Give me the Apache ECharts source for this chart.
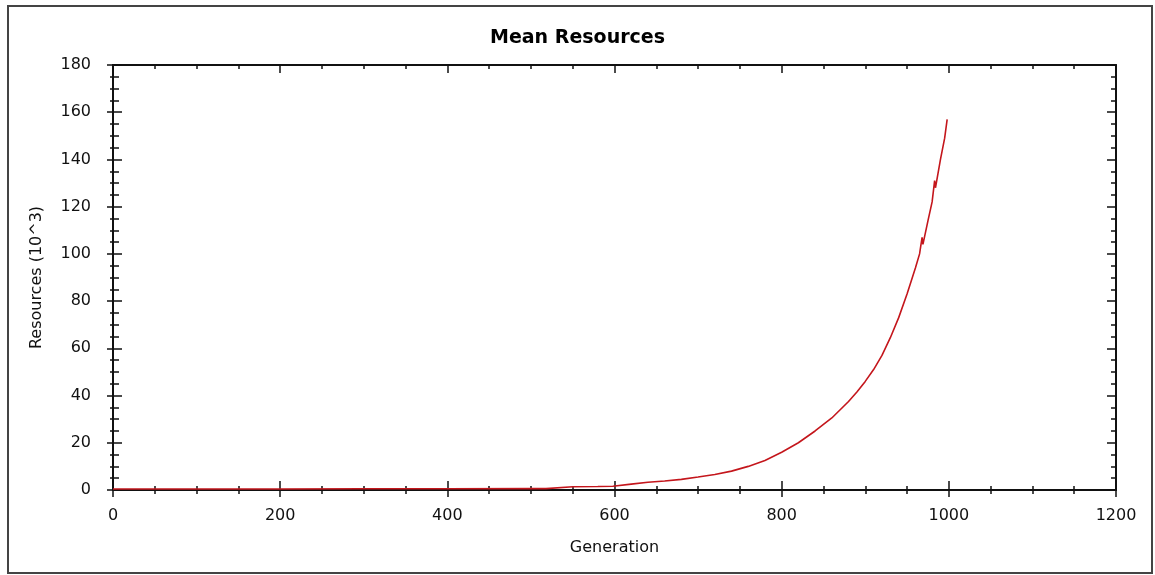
<!DOCTYPE html>
<html>
<head>
<meta charset="utf-8">
<script src="https://cdn.jsdelivr.net/npm/echarts@6/dist/echarts.min.js"></script>
<style>
html,body{margin:0;padding:0;background:#fff;}
#chart{width:1155px;height:575px;}
</style>
</head>
<body>
<div id="chart"></div>
<script>
var titleText = 'Mean Resources';
var xName = 'Generation';
var yName = 'Resources (10^3)';
var xTicks = [0, 200, 400, 600, 800, 1000, 1200];
var yTicks = [0, 20, 40, 60, 80, 100, 120, 140, 160, 180];
var generations = [0, 100, 200, 300, 400, 500, 518, 519, 550, 580, 598, 600, 620, 640, 660, 680, 700, 720, 740, 760, 780, 800, 820, 840, 860, 870, 880, 890, 900, 910, 920, 930, 940, 950, 960, 965, 968, 969, 975, 980, 983, 984, 990, 995, 998];
var resources = [0.4, 0.4, 0.4, 0.5, 0.5, 0.6, 0.6, 1.3, 1.4, 1.5, 1.6, 2.1, 2.5, 3.3, 3.8, 4.5, 5.5, 6.6, 8.0, 10.0, 12.5, 16, 20, 25, 30.5, 34, 37.5, 41.5, 46, 51, 57, 64.5, 73, 83, 94, 100, 107, 104, 114, 122, 131, 128, 140, 149, 157];

var data = generations.map(function (g, i) { return [g, resources[i]]; });

var chart = echarts.init(document.getElementById('chart'));
var fontFam = '"DejaVu Sans", Verdana, sans-serif';
var axisCol = '#111';
var gridPos = { left: 113, right: 39, top: 65, bottom: 85 };
var plainNum = function (v) { return String(v); };

function xAx(opts) {
  return Object.assign({
    type: 'value', min: xTicks[0], max: xTicks[xTicks.length - 1], interval: 200,
    splitLine: { show: false },
    axisLine: { show: true, onZero: false, lineStyle: { color: axisCol, width: 2 } },
    axisLabel: { show: false }
  }, opts);
}
function yAx(opts) {
  return Object.assign({
    type: 'value', min: yTicks[0], max: yTicks[yTicks.length - 1], interval: 20,
    splitLine: { show: false },
    axisLine: { show: true, onZero: false, lineStyle: { color: axisCol, width: 2 } },
    axisLabel: { show: false }
  }, opts);
}
function tk(inside, len) { return { show: true, inside: inside, length: len, lineStyle: { color: axisCol, width: 1.5 } }; }
function mtk(len) { return { show: true, splitNumber: 4, length: len, lineStyle: { color: axisCol, width: 1.5 } }; }

chart.setOption({
  animation: false,
  backgroundColor: '#fff',
  title: {
    text: titleText, left: 'center', top: 24,
    textStyle: { fontFamily: fontFam, fontWeight: 'bold', fontSize: 19, color: '#000' }
  },
  grid: gridPos,
  xAxis: [
    xAx({ position: 'bottom', axisTick: tk(true, 9), minorTick: mtk(4) }),
    xAx({ position: 'bottom', axisTick: tk(false, 7), minorTick: mtk(4),
          axisLabel: { show: true, margin: 18, fontFamily: fontFam, fontSize: 16, color: '#111', formatter: plainNum },
          name: xName, nameLocation: 'middle', nameGap: 50,
          nameTextStyle: { fontFamily: fontFam, fontSize: 16, color: '#111' } }),
    xAx({ position: 'top', axisTick: tk(true, 8), minorTick: mtk(4) })
  ],
  yAxis: [
    yAx({ position: 'left', axisTick: tk(true, 9), minorTick: mtk(6) }),
    yAx({ position: 'left', axisTick: tk(false, 6), minorTick: mtk(3),
          axisLabel: { show: true, margin: 22, fontFamily: fontFam, fontSize: 16, color: '#111', formatter: plainNum },
          name: yName, nameLocation: 'middle', nameGap: 68, nameRotate: 90,
          nameTextStyle: { fontFamily: fontFam, fontSize: 16, color: '#111' } }),
    yAx({ position: 'right', axisTick: tk(true, 9), minorTick: mtk(5) })
  ],
  graphic: [{
    type: 'rect', shape: { x: 8, y: 6, width: 1144, height: 567 },
    style: { fill: 'none', stroke: '#444', lineWidth: 2 }, silent: true, z: 100
  }],
  series: [{
    type: 'line', xAxisIndex: 0, yAxisIndex: 0, data: data,
    showSymbol: false, symbol: 'none',
    lineStyle: { color: '#c4161c', width: 1.6 }, z: 10
  }]
});
</script>
</body>
</html>
